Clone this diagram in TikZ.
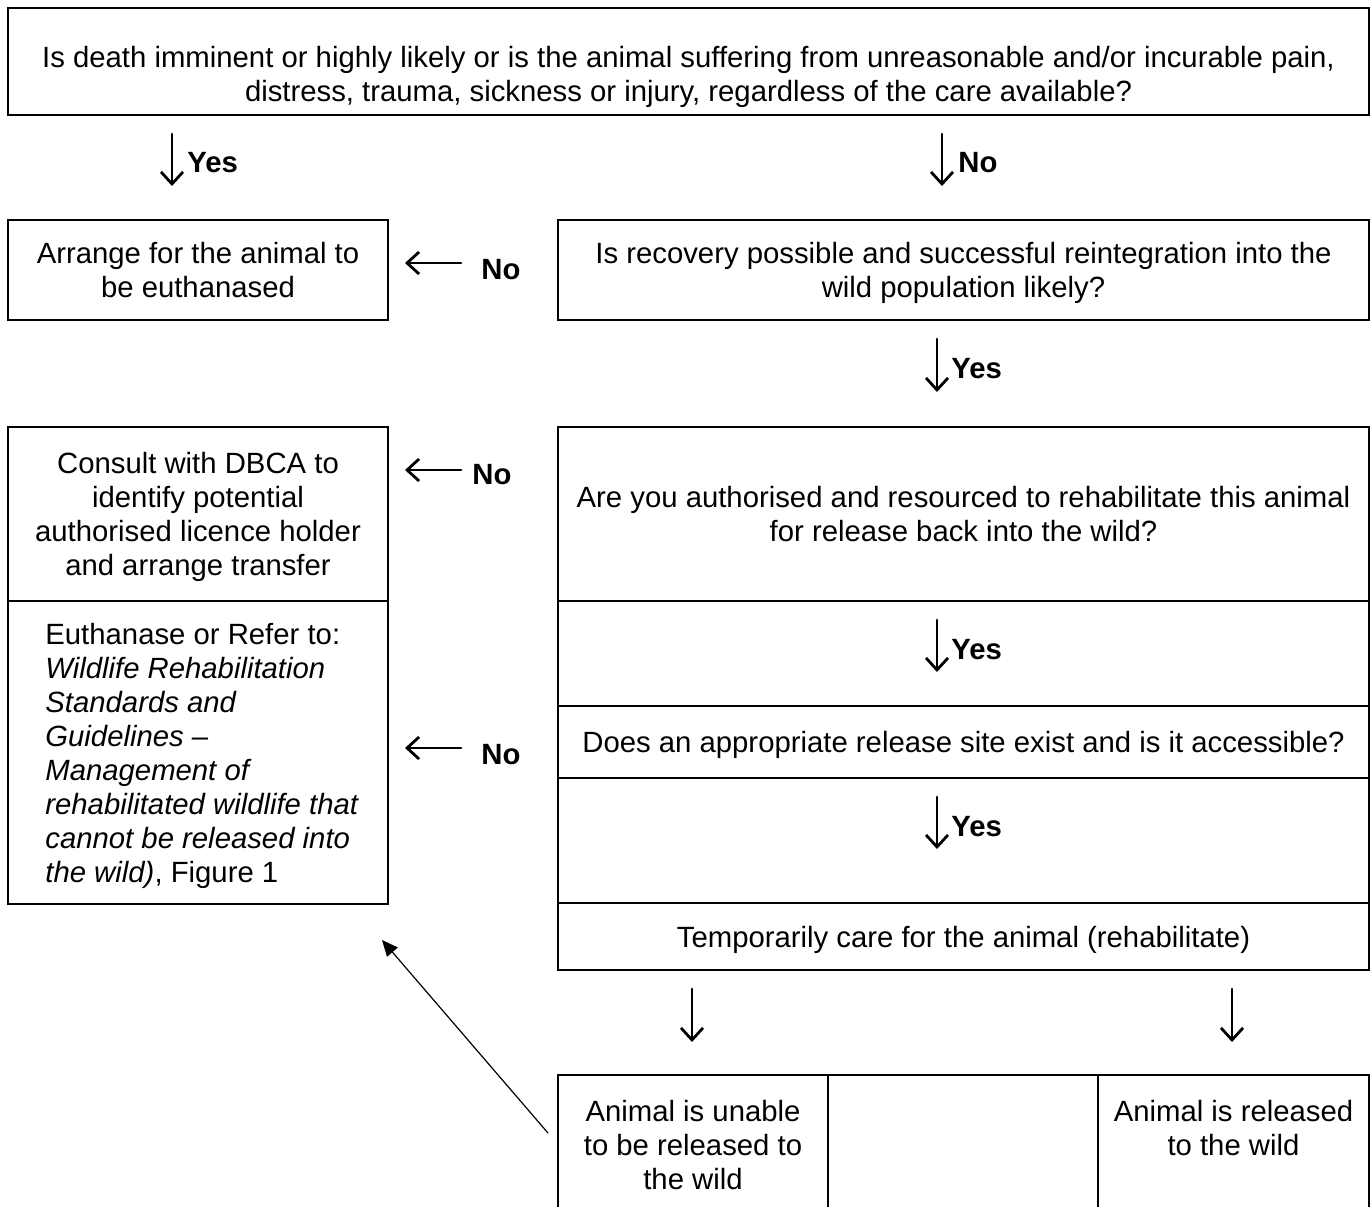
\documentclass[tikz,border=0pt]{standalone}
\usepackage{fontspec}
\setmainfont{Liberation Sans}
\usetikzlibrary{arrows.meta,calc,positioning}
\newcommand{\flowfont}{\fontsize{14.65}{17}\selectfont}
\tikzset{
  flow box/.style={draw,line width=1.3pt,inner sep=0pt,outer sep=0pt,align=center,text depth=0pt,font=\flowfont},
  flow text/.style={inner sep=0pt,align=left,text depth=0pt,font=\flowfont},
  flow label/.style={font=\flowfont\bfseries,inner sep=0pt,anchor=west},
  flow arrow/.style={line width=1.4pt,-{Straight Barb[length=6pt,width=11pt]}},
  back arrow/.style={line width=.6pt,-{Triangle[length=8pt,width=7pt]}}
}

\begin{document}
\begin{tikzpicture}[x=0.5pt,y=-0.5pt,line cap=round]
  \clip (0,0) rectangle (1372,1206);

  % boxes
  \node[flow box,minimum width=680.5pt,minimum height=53.5pt] (death) at (688.5,61.5)
    {\rule{0pt}{23.4pt}Is death imminent or highly likely or is the animal suffering from unreasonable and/or incurable pain,\\
     distress, trauma, sickness or injury, regardless of the care available?};
  \node[flow box,minimum width=190pt,minimum height=50pt] (euthA) at (198,270)
    {Arrange for the animal to\\ be euthanased};
  \node[flow box,minimum width=405.5pt,minimum height=50pt] (recov) at (963.5,270)
    {Is recovery possible and successful reintegration into the\\ wild population likely?};
  \node[flow box,minimum width=190pt,minimum height=87pt] (consult) at (198,514)
    {Consult with DBCA to\\ identify potential\\ authorised licence holder\\ and arrange transfer};
  \node[flow box,minimum width=190pt,minimum height=151.5pt] (euthB) at (198,752.5) {};
  \node[flow text,anchor=west] (euthBtext) at (45,752.5)
    {Euthanase or Refer to:\\ \textit{Wildlife Rehabilitation}\\ \textit{Standards and}\\ \textit{Guidelines --}\\
     \textit{Management of}\\ \textit{rehabilitated wildlife that}\\ \textit{cannot be released into}\\ \textit{the wild)}, Figure 1};
  \node[flow box,minimum width=405.5pt,minimum height=87pt] (auth) at (963.5,514)
    {Are you authorised and resourced to rehabilitate this animal\\ for release back into the wild?};
  \node[flow box,minimum width=405.5pt,minimum height=52.5pt] (rowA) at (963.5,653.5) {};
  \node[flow box,minimum width=405.5pt,minimum height=36pt] (site) at (963.5,742)
    {Does an appropriate release site exist and is it accessible?};
  \node[flow box,minimum width=405.5pt,minimum height=62.5pt] (rowB) at (963.5,840.5) {};
  \node[flow box,minimum width=405.5pt,minimum height=33.5pt] (care) at (963.5,936.5)
    {Temporarily care for the animal (rehabilitate)};
  \node[flow box,minimum width=135pt,minimum height=70pt] (unable) at (693,1145)
    {Animal is unable\\ to be released to\\ the wild};
  \node[flow box,minimum width=135pt,minimum height=70pt] (blank) at (963,1145) {};
  \node[flow box,minimum width=135.5pt,minimum height=70pt] (released) at (1233.5,1145)
    {Animal is released\\ to the wild\\ \mbox{}};

  % arrow ends
  \coordinate (a1) at (172,134);  \coordinate (a1t) at (172,186);
  \coordinate (a2) at (942,134);  \coordinate (a2t) at (942,186);
  \coordinate (a3) at (937,339);  \coordinate (a3t) at (937,392);
  \coordinate (a4) at (937,620);  \coordinate (a4t) at (937,672);
  \coordinate (a5) at (937,797);  \coordinate (a5t) at (937,849);
  \coordinate (a6) at (692,989);  \coordinate (a6t) at (692,1042);
  \coordinate (a7) at (1232,989); \coordinate (a7t) at (1232,1042);
  \coordinate (b1) at (461,263);  \coordinate (b1t) at (405,263);
  \coordinate (b2) at (461,470);  \coordinate (b2t) at (405,470);
  \coordinate (b3) at (461,748);  \coordinate (b3t) at (405,748);
  \coordinate (c1t) at (382,940);

  \foreach \p in {a1,a2,a3,a4,a5,a6,a7,b1,b2,b3} {\draw[flow arrow] (\p) -- (\p t);}
  \draw[back arrow] ($(unable.west)+(-10,-12)$) -- (c1t);

  \node[flow label] (yes1) at (187,163) {Yes};
  \node[flow label] (no1)  at (958,163) {No};
  \node[flow label] (yes2) at (951,369) {Yes};
  \node[flow label] (yes3) at (951,650) {Yes};
  \node[flow label] (yes4) at (951,827) {Yes};
  \node[flow label] (no2)  at (481,270) {No};
  \node[flow label] (no3)  at (472,475) {No};
  \node[flow label] (no4)  at (481,755) {No};
\end{tikzpicture}
\end{document}
